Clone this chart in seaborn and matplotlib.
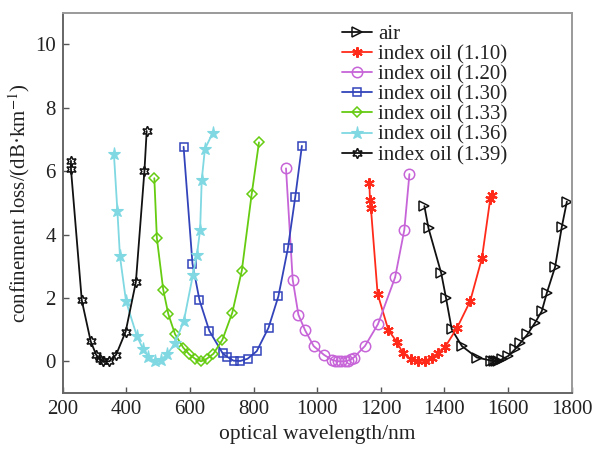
import numpy as np
import pandas as pd
import matplotlib
matplotlib.use("Agg")
import matplotlib.pyplot as plt
import seaborn as sns

# ---- data ----
air_x = [1337, 1350, 1390, 1405, 1423, 1455, 1502, 1548, 1556, 1563, 1570, 1580, 1601, 1622, 1638, 1661, 1685, 1706, 1722, 1748, 1769, 1785]
air_y = [4.90, 4.20, 2.78, 2.00, 1.01, 0.48, 0.12, 0.02, 0.00, 0.00, 0.01, 0.06, 0.17, 0.38, 0.57, 0.85, 1.22, 1.58, 2.16, 2.98, 4.24, 5.04]

oil110_x = [1164, 1166, 1169, 1190, 1224, 1250, 1270, 1295, 1318, 1338, 1360, 1380, 1402, 1440, 1481, 1518, 1544, 1549]
oil110_y = [5.62, 5.09, 4.83, 2.13, 0.98, 0.62, 0.25, 0.07, 0.01, 0.02, 0.10, 0.25, 0.45, 1.06, 1.90, 3.26, 5.12, 5.25]

oil120_x = [902, 923, 941, 962, 989, 1022, 1046, 1056, 1066, 1076, 1086, 1096, 1106, 1115, 1150, 1191, 1245, 1274, 1290]
oil120_y = [6.09, 2.58, 1.47, 0.98, 0.48, 0.20, 0.05, 0.02, 0.00, 0.00, 0.00, 0.02, 0.06, 0.12, 0.48, 1.17, 2.65, 4.15, 5.91]

oil130_x = [580, 608, 630, 661, 703, 716, 737, 758, 781, 810, 847, 878, 908, 931, 952]
oil130_y = [6.77, 3.08, 1.93, 0.96, 0.25, 0.15, 0.02, 0.01, 0.08, 0.32, 1.06, 2.05, 3.57, 5.18, 6.80]

oil133_x = [488, 496, 516, 532, 553, 579, 598, 616, 635, 653, 674, 702, 733, 763, 794, 817]
oil133_y = [5.78, 3.89, 2.26, 1.49, 0.86, 0.43, 0.22, 0.08, 0.00, 0.08, 0.24, 0.68, 1.53, 2.86, 5.27, 6.91]

oil136_x = [361, 372, 380, 399, 433, 453, 469, 490, 508, 529, 553, 581, 609, 622, 632, 637, 647, 672]
oil136_y = [6.54, 4.73, 3.31, 1.90, 0.80, 0.38, 0.15, 0.00, 0.04, 0.23, 0.57, 1.28, 2.71, 3.36, 4.15, 5.72, 6.70, 7.22]

oil139_x = [226, 226, 260, 288, 305, 317, 328, 347, 368, 398, 430, 457, 464]
oil139_y = [6.33, 6.06, 1.92, 0.63, 0.21, 0.06, 0.00, 0.00, 0.21, 0.94, 2.50, 6.02, 7.27]

labels = ["air", "index oil (1.10)", "index oil (1.20)", "index oil (1.30)",
          "index oil (1.33)", "index oil (1.36)", "index oil (1.39)"]
xticks = [200, 400, 600, 800, 1000, 1200, 1400, 1600, 1800]
yticks = [0, 2, 4, 6, 8, 10]

series = [(air_x, air_y), (oil110_x, oil110_y), (oil120_x, oil120_y), (oil130_x, oil130_y),
          (oil133_x, oil133_y), (oil136_x, oil136_y), (oil139_x, oil139_y)]

styles = [
    dict(color="#111111", marker=">", markersize=6.5, mfc="none", mew=1.1),
    dict(color="#ff2a1a", marker=(6, 2, 0), markersize=7.5, mfc="#ff2a1a", mew=1.5),
    dict(color="#c664d8", marker="o", markersize=7.5, mfc="none", mew=1.1),
    dict(color="#3344bb", marker="s", markersize=5.5, mfc="none", mew=1.1),
    dict(color="#66cc11", marker="D", markersize=5.5, mfc="none", mew=1.1),
    dict(color="#7fd8e2", marker="*", markersize=9.5, mfc="#7fd8e2", mew=0.8),
    dict(color="#111111", marker=(6, 1, 0), markersize=7.5, mfc="none", mew=1.1),
]

sns.set_style("white")
plt.rcParams["font.family"] = ["Liberation Serif", "DejaVu Serif"]
plt.rcParams["mathtext.fontset"] = "stix"

fig = plt.figure(figsize=(6.03, 4.51), dpi=100)
ax = fig.add_axes([0.104, 0.1286, 0.844, 0.843])

for (xs, ys), lab, st in zip(series, labels, styles):
    df = pd.DataFrame({"x": xs, "y": ys})
    sns.lineplot(data=df, x="x", y="y", ax=ax, sort=False, estimator=None,
                 label=lab, color=st["color"], marker=st["marker"],
                 markersize=st["markersize"], markerfacecolor=st["mfc"],
                 markeredgecolor=st["color"], markeredgewidth=st["mew"],
                 linewidth=1.3)

ax.set_xlim(200, 1800)
ax.set_ylim(-1, 11)
ax.set_xticks(xticks)
ax.set_yticks(yticks)
ax.tick_params(axis="both", direction="in", length=4, width=1, colors="#555555",
               labelcolor="#222222", labelsize=15, top=False, right=False,
               bottom=True, left=True, pad=5)
for s in ax.spines.values():
    s.set_color("#9a9a9a")
    s.set_linewidth(1.4)
ax.spines["left"].set_color("#666666")
ax.spines["bottom"].set_color("#666666")

ax.set_xlabel("optical wavelength/nm", fontsize=15.5, color="#222222", labelpad=4)
ax.set_ylabel("confinement loss/(dB·km$^{-1}$)", fontsize=15, color="#222222", labelpad=2)

leg = ax.legend(loc="upper left", bbox_to_anchor=(0.548, 0.970), frameon=False,
                fontsize=15, borderaxespad=0, borderpad=0, handlelength=1.45,
                handletextpad=0.3, labelspacing=0.03)
for t in leg.get_texts():
    t.set_color("#222222")

fig.savefig("out.png", dpi=100)
